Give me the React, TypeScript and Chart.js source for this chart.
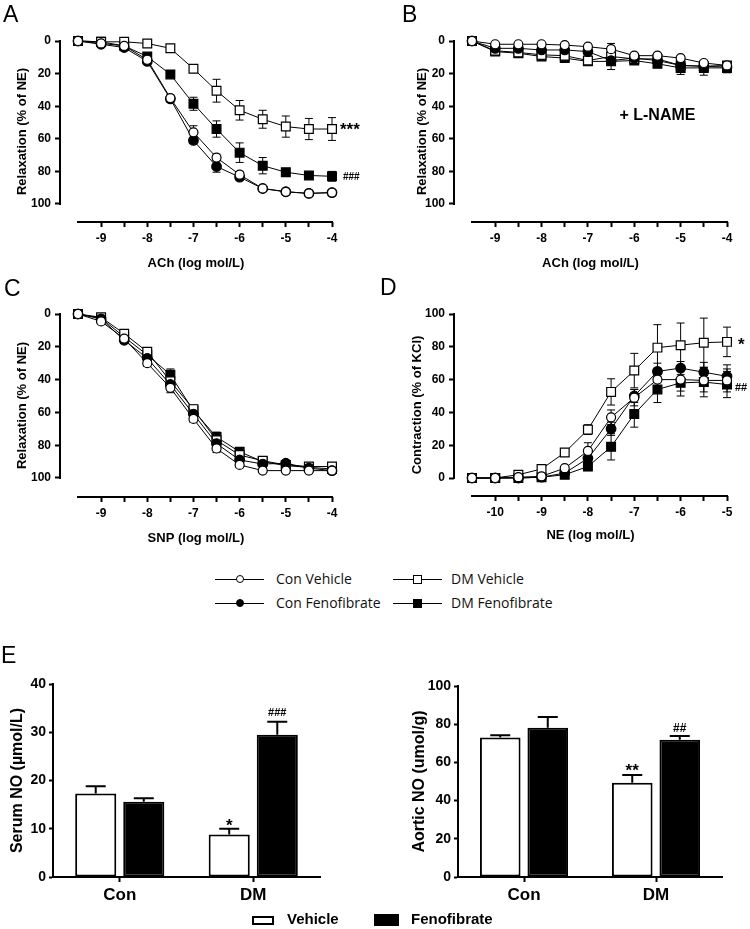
import React, { useEffect, useRef } from "react";
import { Chart, registerables } from "chart.js";

Chart.register(...registerables);
const FAMILY = "'Liberation Sans', Arial, Helvetica, sans-serif";
Chart.defaults.font.family = FAMILY;
Chart.defaults.color = "#000";

// ---------------- DATA ----------------
const seriesNames = ["Con Vehicle", "Con Fenofibrate", "DM Vehicle", "DM Fenofibrate"];

// Panel A: ACh relaxation (% of NE)
const achLog = [-9.5, -9, -8.5, -8, -7.5, -7, -6.5, -6, -5.5, -5, -4.5, -4];
const achTicks = [-9, -8.5, -8, -7.5, -7, -6.5, -6, -5.5, -5, -4.5, -4];
const relaxTicks = [0, 20, 40, 60, 80, 100];

const aConVeh = [0, 1.5, 3, 11.5, 35, 56, 71.5, 82, 90.5, 92.5, 93.5, 93];
const aConVehErr = [0, 0.5, 0.5, 1, 2, 4, 2, 2, 1, 1, 1, 1];
const aConFeno = [0, 2, 4, 12.5, 35.5, 61, 77, 83.5, 90.5, 92.5, 93.5, 93];
const aConFenoErr = [0, 0.5, 1, 1, 2, 1.5, 3.5, 2, 1, 1, 1, 1];
const aDmVeh = [0, 0.5, 0.5, 1.5, 4.5, 17, 30.5, 42.5, 48, 52.5, 54, 54];
const aDmVehErr = [0, 0.5, 0.5, 0.5, 1, 1, 7, 6, 5.5, 6.5, 6.5, 7];
const aDmFeno = [0, 0.5, 3, 9.5, 20.5, 38.5, 54, 68.5, 76.5, 80.5, 82.5, 83];
const aDmFenoErr = [0, 0.5, 0.5, 1, 1, 4, 5, 6, 5, 1.5, 1, 3];

// Panel B: ACh + L-NAME
const bConVeh = [0, 2, 2, 2, 2.5, 3.5, 5, 9, 9, 10.5, 13.5, 15];
const bConVehErr = [0, 1, 1, 1, 1, 1, 1.5, 1.5, 1.5, 1.5, 1.5, 2];
const bConFeno = [0, 4.5, 4.5, 5.5, 5.5, 6.5, 12, 10.5, 12, 15, 15.5, 16];
const bConFenoErr = [0, 1.5, 1.5, 1.5, 1.5, 1.5, 2, 2, 2, 2, 2, 2];
const bDmVeh = [0, 6, 7, 8.5, 9, 12, 9.5, 11, 11, 15, 15.5, 15];
const bDmVehErr = [0, 1.5, 1.5, 1.5, 1.5, 1.5, 8, 2, 2, 2, 2, 2];
const bDmFeno = [0, 6.5, 7.5, 9.5, 10.5, 12.5, 12.5, 12, 14, 16.5, 16.5, 16.5];
const bDmFenoErr = [0, 1.5, 1.5, 1.5, 1.5, 1.5, 2, 2, 2, 4, 4.5, 3];

// Panel C: SNP
const snpLog = [-9.5, -9, -8.5, -8, -7.5, -7, -6.5, -6, -5.5, -5, -4.5, -4];
const snpTicks = [-9, -8.5, -8, -7.5, -7, -6.5, -6, -5.5, -5, -4.5, -4];
const cConVeh = [0, 4.5, 15, 30, 45, 64, 82, 92, 95.5, 95.5, 95.5, 95.5];
const cConVehErr = [0, 1, 1.5, 2, 3, 2, 2.5, 1.5, 1, 1, 1, 1];
const cConFeno = [0, 3, 16, 27, 43, 61, 79, 89, 91.5, 91, 94, 95.5];
const cConFenoErr = [0, 1, 2, 2, 3.5, 2.5, 3, 2, 1.5, 1, 1, 1];
const cDmVeh = [0, 2, 12, 23, 41, 58, 77, 86, 89.5, 92, 93, 93];
const cDmVehErr = [0, 1, 2, 2, 3, 2.5, 3, 2, 1.5, 1, 1, 1];
const cDmFeno = [0, 2.5, 14, 25, 37, 59, 75, 84, 90, 92.5, 93.5, 94.5];
const cDmFenoErr = [0, 1, 2, 2, 3.5, 2.5, 3, 2, 1.5, 1, 1, 1];

// Panel D: NE contraction (% of KCl)
const neLog = [-10.5, -10, -9.5, -9, -8.5, -8, -7.5, -7, -6.5, -6, -5.5, -5];
const neTicks = [-10, -9.5, -9, -8.5, -8, -7.5, -7, -6.5, -6, -5.5, -5];
const contractTicks = [0, 20, 40, 60, 80, 100];
const dConVeh = [0, 0, 0.5, 1, 6, 16.5, 37, 49, 60, 60, 59.5, 59.5];
const dConVehErr = [0, 0, 0.5, 0.5, 1, 5, 4.5, 5, 6, 7, 7, 7];
const dConFeno = [0, 0, 0, 0.5, 3, 12, 30, 50, 65, 67, 64.5, 62];
const dConFenoErr = [0, 0, 0, 0.5, 1, 3, 4, 4, 5, 4, 6, 7];
const dDmVeh = [0, 0, 2, 5.5, 15.5, 29.5, 52.5, 65.5, 79.5, 81, 82.5, 83];
const dDmVehErr = [0, 0, 0.5, 1, 1.5, 3, 8, 10.5, 14, 13.5, 15, 9];
const dDmFeno = [0, 0, 0, 0.5, 2, 7, 19, 39, 54, 58, 58.5, 57];
const dDmFenoErr = [0, 0, 0, 0.5, 1, 2.5, 8, 8, 8, 8, 9, 8];

// Panel E: NO levels
const groups = ["Con", "DM"];
const serumVeh = [17.3, 8.8];
const serumVehErr = [1.5, 1.2];
const serumFeno = [15.6, 29.5];
const serumFenoErr = [0.7, 2.7];
const serumVehMarks = ["", "*"];
const serumFenoMarks = ["", "###"];
const aorticVeh = [73.0, 49.4];
const aorticVehErr = [1.2, 4.0];
const aorticFeno = [78.2, 71.9];
const aorticFenoErr = [5.6, 1.9];
const aorticVehMarks = ["", "**"];
const aorticFenoMarks = ["", "##"];

// ---------------- STYLES ----------------
const seriesStyles = [
  { pointStyle: "circle", radius: 4.5, fill: "#ffffff" },
  { pointStyle: "circle", radius: 4.8, fill: "#000000" },
  { pointStyle: "rect", radius: 6.2, fill: "#ffffff" },
  { pointStyle: "rect", radius: 6.2, fill: "#000000" },
];

const last = (a: number[]) => a[a.length - 1];

// ---------------- PLUGINS ----------------
const lineErrorsPlugin = {
  id: "lineErrors",
  beforeDatasetsDraw(chart: any) {
    const ctx = chart.ctx;
    const yScale = chart.scales.y;
    ctx.save();
    ctx.strokeStyle = "#000";
    ctx.lineWidth = 1;
    chart.data.datasets.forEach((ds: any, i: number) => {
      const errs = ds.errors;
      if (!errs) return;
      const meta = chart.getDatasetMeta(i);
      meta.data.forEach((pt: any, j: number) => {
        const e = errs[j];
        if (!e) return;
        const v = ds.data[j].y;
        const y1 = yScale.getPixelForValue(v - e);
        const y2 = yScale.getPixelForValue(v + e);
        const x = pt.x;
        ctx.beginPath();
        ctx.moveTo(x, y1);
        ctx.lineTo(x, y2);
        ctx.moveTo(x - 4, y1);
        ctx.lineTo(x + 4, y1);
        ctx.moveTo(x - 4, y2);
        ctx.lineTo(x + 4, y2);
        ctx.stroke();
      });
    });
    ctx.restore();
  },
};

const barErrorsPlugin = {
  id: "barErrors",
  afterDatasetsDraw(chart: any) {
    const ctx = chart.ctx;
    const yScale = chart.scales.y;
    ctx.save();
    ctx.strokeStyle = "#000";
    ctx.lineWidth = 2;
    chart.data.datasets.forEach((ds: any, i: number) => {
      const meta = chart.getDatasetMeta(i);
      meta.data.forEach((bar: any, j: number) => {
        const e = ds.errors[j];
        const v = ds.data[j];
        const y1 = yScale.getPixelForValue(v);
        const y2 = yScale.getPixelForValue(v + e);
        ctx.beginPath();
        ctx.moveTo(bar.x, y1);
        ctx.lineTo(bar.x, y2);
        ctx.moveTo(bar.x - 10, y2);
        ctx.lineTo(bar.x + 10, y2);
        ctx.stroke();
      });
    });
    ctx.restore();
  },
};

function makeAxesPlugin(xFrom: number, xTo: number, yFrom: number, yTo: number) {
  return {
    id: "offsetAxes",
    afterDraw(chart: any) {
      const { ctx, chartArea } = chart;
      const x = chart.scales.x;
      const y = chart.scales.y;
      ctx.save();
      ctx.strokeStyle = "#000";
      ctx.lineWidth = 2;
      ctx.lineCap = "square";
      ctx.beginPath();
      ctx.moveTo(chartArea.left, y.getPixelForValue(yFrom));
      ctx.lineTo(chartArea.left, y.getPixelForValue(yTo));
      ctx.moveTo(x.getPixelForValue(xFrom), chartArea.bottom);
      ctx.lineTo(x.getPixelForValue(xTo), chartArea.bottom);
      ctx.stroke();
      ctx.restore();
    },
  };
}

function drawCentered(ctx: any, text: string, x: number, y: number, font: string, align: string) {
  ctx.font = font;
  ctx.textAlign = align;
  ctx.textBaseline = "alphabetic";
  ctx.fillStyle = "#000";
  const m = ctx.measureText(text);
  ctx.fillText(text, x, y + (m.actualBoundingBoxAscent - m.actualBoundingBoxDescent) / 2);
}

type LineNote = { text: string; x: number; y: number; font: string; align: string; dx: number; dy: number };

function makeLineNotesPlugin(notes: LineNote[]) {
  return {
    id: "lineNotes",
    afterDatasetsDraw(chart: any) {
      const ctx = chart.ctx;
      ctx.save();
      notes.forEach((n) => {
        const px = chart.scales.x.getPixelForValue(n.x) + n.dx;
        const py = chart.scales.y.getPixelForValue(n.y) + n.dy;
        drawCentered(ctx, n.text, px, py, n.font, n.align);
      });
      ctx.restore();
    },
  };
}

function makeBarNotesPlugin(marks: string[][], fonts: string[][], gaps: number[][]) {
  return {
    id: "barNotes",
    afterDatasetsDraw(chart: any) {
      const ctx = chart.ctx;
      ctx.save();
      chart.data.datasets.forEach((ds: any, i: number) => {
        const meta = chart.getDatasetMeta(i);
        meta.data.forEach((bar: any, j: number) => {
          const t = marks[i][j];
          if (!t) return;
          const py = chart.scales.y.getPixelForValue(ds.data[j] + ds.errors[j]) - gaps[i][j];
          drawCentered(ctx, t, bar.x, py, fonts[i][j], "center");
        });
      });
      ctx.restore();
    },
  };
}

// ---------------- CONFIG BUILDERS ----------------
type Series = { values: number[]; errors: number[] };
interface LinePanelSpec {
  box: number[];
  axisXPx: number;
  xStartPx: number;
  xEndPx: number;
  yTopPx: number;
  yBottomPx: number;
  axisYPx: number;
  yTitleX: number;
  xTitleY: number;
  doses: number[];
  xTicks: number[];
  yTicks: number[];
  yTopVal: number;
  yBottomVal: number;
  xTitle: string;
  yTitle: string;
  series: Series[];
  notes: LineNote[];
}

function buildLineConfig(p: LinePanelSpec): any {
  const [left, top, width, height] = p.box;
  const xFirst = p.doses[0];
  const xLast = last(p.doses);
  const xppu = (p.xEndPx - p.xStartPx) / (xLast - xFirst);
  const xMin = xFirst - (p.xStartPx - p.axisXPx) / xppu;
  const yppu = (p.yBottomPx - p.yTopPx) / Math.abs(p.yBottomVal - p.yTopVal);
  const ext = (p.axisYPx - p.yBottomPx) / yppu;
  const reverse = p.yTopVal < p.yBottomVal;
  const yMin = reverse ? p.yTopVal : p.yBottomVal - ext;
  const yMax = reverse ? p.yBottomVal + ext : p.yTopVal;
  const yAxisW = p.axisXPx - left;
  const xAxisH = top + height - p.axisYPx;
  const titleLH = 13 * 1.2;
  const gridOpts = {
    drawOnChartArea: false,
    drawTicks: true,
    tickLength: 5,
    tickWidth: 2,
    tickColor: "#000",
  };
  return {
    type: "line",
    data: {
      datasets: p.series.map((s, i) => ({
        label: seriesNames[i],
        data: s.values.map((v, j) => ({ x: p.doses[j], y: v })),
        errors: s.errors,
        borderColor: "#000",
        borderWidth: 1,
        backgroundColor: seriesStyles[i].fill,
        pointStyle: seriesStyles[i].pointStyle,
        pointRadius: seriesStyles[i].radius,
        pointBackgroundColor: seriesStyles[i].fill,
        pointBorderColor: "#000",
        pointBorderWidth: 1.2,
        tension: 0,
        fill: false,
        clip: false,
      })),
    },
    options: {
      responsive: false,
      maintainAspectRatio: false,
      animation: false,
      devicePixelRatio: 1,
      events: [],
      layout: { padding: { left: 0, top: p.yTopPx - top, right: left + width - p.xEndPx, bottom: 0 } },
      plugins: { legend: { display: false }, tooltip: { enabled: false } },
      scales: {
        x: {
          type: "linear",
          min: xMin,
          max: xLast,
          afterBuildTicks: (s: any) => {
            s.ticks = p.xTicks.map((v) => ({ value: v }));
          },
          afterFit: (s: any) => {
            s.height = xAxisH;
          },
          ticks: {
            autoSkip: false,
            maxRotation: 0,
            padding: 4,
            color: "#000",
            font: { size: 12, weight: "bold", family: FAMILY },
            callback: (v: any) => (Number.isInteger(Number(v)) ? String(v) : ""),
          },
          grid: gridOpts,
          border: { display: false },
          title: {
            display: true,
            text: p.xTitle,
            color: "#000",
            font: { size: 13, weight: "bold", family: FAMILY },
            padding: { top: 0, bottom: top + height - p.xTitleY - titleLH / 2 },
          },
        },
        y: {
          type: "linear",
          reverse,
          min: yMin,
          max: yMax,
          afterBuildTicks: (s: any) => {
            s.ticks = p.yTicks.map((v) => ({ value: v }));
          },
          afterFit: (s: any) => {
            s.width = yAxisW;
          },
          ticks: {
            padding: 4,
            color: "#000",
            font: { size: 12, weight: "bold", family: FAMILY },
          },
          grid: gridOpts,
          border: { display: false },
          title: {
            display: true,
            text: p.yTitle,
            color: "#000",
            font: { size: 13, weight: "bold", family: FAMILY },
            padding: { top: p.yTitleX - left - titleLH / 2, bottom: 0 },
          },
        },
      },
    },
    plugins: [
      lineErrorsPlugin,
      makeAxesPlugin(xFirst, xLast, p.yTopVal, p.yBottomVal),
      makeLineNotesPlugin(p.notes),
    ],
  };
}

interface BarPanelSpec {
  box: number[];
  areaLeft: number;
  areaRight: number;
  areaTop: number;
  areaBottom: number;
  yTitleX: number;
  yMax: number;
  yStep: number;
  yTitle: string;
  veh: number[];
  vehErr: number[];
  feno: number[];
  fenoErr: number[];
  marks: string[][];
  markFonts: string[][];
  markGaps: number[][];
}

function buildBarConfig(p: BarPanelSpec): any {
  const [left, top, width, height] = p.box;
  const titleLH = 16 * 1.2;
  const gridOpts = {
    drawOnChartArea: false,
    drawTicks: true,
    tickWidth: 2,
    tickColor: "#000",
  };
  return {
    type: "bar",
    data: {
      labels: groups,
      datasets: [
        {
          label: "Vehicle",
          data: p.veh,
          errors: p.vehErr,
          backgroundColor: "#ffffff",
          borderColor: "#000",
          borderWidth: 2,
          borderSkipped: false,
          categoryPercentage: 0.72,
          barPercentage: 0.855,
        },
        {
          label: "Fenofibrate",
          data: p.feno,
          errors: p.fenoErr,
          backgroundColor: "#000",
          borderColor: "#000",
          borderWidth: 2,
          borderSkipped: false,
          categoryPercentage: 0.72,
          barPercentage: 0.855,
        },
      ],
    },
    options: {
      responsive: false,
      maintainAspectRatio: false,
      animation: false,
      devicePixelRatio: 1,
      events: [],
      layout: { padding: { left: 0, top: p.areaTop - top, right: left + width - p.areaRight, bottom: 0 } },
      plugins: { legend: { display: false }, tooltip: { enabled: false } },
      scales: {
        x: {
          type: "category",
          offset: true,
          afterFit: (s: any) => {
            s.height = top + height - p.areaBottom;
          },
          grid: { ...gridOpts, offset: false, tickLength: 5 },
          border: { display: true, width: 2, color: "#000" },
          ticks: { padding: 3, color: "#000", font: { size: 17, weight: "bold", family: FAMILY } },
        },
        y: {
          min: 0,
          max: p.yMax,
          afterFit: (s: any) => {
            s.width = p.areaLeft - left;
          },
          ticks: { stepSize: p.yStep, padding: 3, color: "#000", font: { size: 14, weight: "bold", family: FAMILY } },
          grid: { ...gridOpts, tickLength: 4 },
          border: { display: true, width: 2, color: "#000" },
          title: {
            display: true,
            text: p.yTitle,
            color: "#000",
            font: { size: 16, weight: "bold", family: FAMILY },
            padding: { top: p.yTitleX - left - titleLH / 2, bottom: 0 },
          },
        },
      },
    },
    plugins: [barErrorsPlugin, makeBarNotesPlugin(p.marks, p.markFonts, p.markGaps)],
  };
}

// ---------------- PANEL SPECS ----------------
const panelA: LinePanelSpec = {
  box: [0, 20, 375, 255],
  axisXPx: 60, xStartPx: 78, xEndPx: 332,
  yTopPx: 41, yBottomPx: 204, axisYPx: 222,
  yTitleX: 22, xTitleY: 263,
  doses: achLog, xTicks: achTicks, yTicks: relaxTicks,
  yTopVal: 0, yBottomVal: 100,
  xTitle: "ACh (log mol/L)", yTitle: "Relaxation (% of NE)",
  series: [
    { values: aConVeh, errors: aConVehErr },
    { values: aConFeno, errors: aConFenoErr },
    { values: aDmVeh, errors: aDmVehErr },
    { values: aDmFeno, errors: aDmFenoErr },
  ],
  notes: [
    { text: "***", x: last(achLog), y: last(aDmVeh), font: `bold 17px ${FAMILY}`, align: "left", dx: 8, dy: -3 },
    { text: "###", x: last(achLog), y: last(aDmFeno), font: `bold 10px ${FAMILY}`, align: "left", dx: 11, dy: 0 },
  ],
};

const panelB: LinePanelSpec = {
  box: [375, 20, 375, 255],
  axisXPx: 454, xStartPx: 472, xEndPx: 727,
  yTopPx: 41, yBottomPx: 204, axisYPx: 222,
  yTitleX: 422, xTitleY: 263,
  doses: achLog, xTicks: achTicks, yTicks: relaxTicks,
  yTopVal: 0, yBottomVal: 100,
  xTitle: "ACh (log mol/L)", yTitle: "Relaxation (% of NE)",
  series: [
    { values: bConVeh, errors: bConVehErr },
    { values: bConFeno, errors: bConFenoErr },
    { values: bDmVeh, errors: bDmVehErr },
    { values: bDmFeno, errors: bDmFenoErr },
  ],
  notes: [{ text: "+ L-NAME", x: -5.5, y: 45, font: `bold 16px ${FAMILY}`, align: "center", dx: 0, dy: 0 }],
};

const panelC: LinePanelSpec = {
  box: [0, 295, 375, 255],
  axisXPx: 60, xStartPx: 78, xEndPx: 332,
  yTopPx: 314, yBottomPx: 478, axisYPx: 497,
  yTitleX: 22, xTitleY: 538,
  doses: snpLog, xTicks: snpTicks, yTicks: relaxTicks,
  yTopVal: 0, yBottomVal: 100,
  xTitle: "SNP (log mol/L)", yTitle: "Relaxation (% of NE)",
  series: [
    { values: cConVeh, errors: cConVehErr },
    { values: cConFeno, errors: cConFenoErr },
    { values: cDmVeh, errors: cDmVehErr },
    { values: cDmFeno, errors: cDmFenoErr },
  ],
  notes: [],
};

const panelD: LinePanelSpec = {
  box: [375, 295, 375, 255],
  axisXPx: 454, xStartPx: 472, xEndPx: 727,
  yTopPx: 314, yBottomPx: 478, axisYPx: 496,
  yTitleX: 417, xTitleY: 535,
  doses: neLog, xTicks: neTicks, yTicks: contractTicks,
  yTopVal: 100, yBottomVal: 0,
  xTitle: "NE (log mol/L)", yTitle: "Contraction (% of KCl)",
  series: [
    { values: dConVeh, errors: dConVehErr },
    { values: dConFeno, errors: dConFenoErr },
    { values: dDmVeh, errors: dDmVehErr },
    { values: dDmFeno, errors: dDmFenoErr },
  ],
  notes: [
    { text: "*", x: last(neLog), y: last(dDmVeh), font: `bold 17px ${FAMILY}`, align: "left", dx: 11, dy: 0 },
    { text: "##", x: last(neLog), y: last(dDmFeno), font: `bold 11px ${FAMILY}`, align: "left", dx: 8, dy: 2 },
  ],
};

const panelE1: BarPanelSpec = {
  box: [0, 650, 345, 265],
  areaLeft: 53, areaRight: 320, areaTop: 684, areaBottom: 877,
  yTitleX: 18, yMax: 40, yStep: 10, yTitle: "Serum NO (µmol/L)",
  veh: serumVeh, vehErr: serumVehErr, feno: serumFeno, fenoErr: serumFenoErr,
  marks: [serumVehMarks, serumFenoMarks],
  markFonts: [
    [`bold 17px ${FAMILY}`, `bold 17px ${FAMILY}`],
    [`bold 11px ${FAMILY}`, `bold 11px ${FAMILY}`],
  ],
  markGaps: [[6, 6], [10, 10]],
};

const panelE2: BarPanelSpec = {
  box: [375, 650, 370, 265],
  areaLeft: 458, areaRight: 722, areaTop: 686, areaBottom: 877,
  yTitleX: 420, yMax: 100, yStep: 20, yTitle: "Aortic NO (umol/g)",
  veh: aorticVeh, vehErr: aorticVehErr, feno: aorticFeno, fenoErr: aorticFenoErr,
  marks: [aorticVehMarks, aorticFenoMarks],
  markFonts: [
    [`bold 17px ${FAMILY}`, `bold 17px ${FAMILY}`],
    [`bold 12px ${FAMILY}`, `bold 12px ${FAMILY}`],
  ],
  markGaps: [[8, 8], [9, 9]],
};

// ---------------- COMPONENTS ----------------
function ChartBox({ box, build }: { box: number[]; build: () => any }) {
  const ref = useRef<HTMLCanvasElement>(null);
  useEffect(() => {
    const chart = new Chart(ref.current as HTMLCanvasElement, build());
    return () => chart.destroy();
  }, []);
  const [left, top, width, height] = box;
  return (
    <canvas
      ref={ref}
      width={width}
      height={height}
      style={{ position: "absolute", left, top, width, height }}
    />
  );
}

function LegendItem({ x, y, idx, gap }: { x: number; y: number; idx: number; gap: number }) {
  const st = seriesStyles[idx];
  const size = st.pointStyle === "rect" ? 9 : 8;
  return (
    <div style={{ position: "absolute", left: x, top: y - 10, height: 20, display: "flex", alignItems: "center" }}>
      <div style={{ position: "relative", width: 49, height: 20 }}>
        <div style={{ position: "absolute", left: 0, right: 0, top: 9.5, height: 1.3, background: "#000" }} />
        <div
          style={{
            position: "absolute",
            left: 24.5 - size / 2,
            top: 10 - size / 2,
            width: size,
            height: size,
            boxSizing: "border-box",
            border: "1.2px solid #000",
            borderRadius: st.pointStyle === "circle" ? "50%" : 0,
            background: st.fill,
          }}
        />
      </div>
      <span
        style={{
          marginLeft: gap,
          font: "14px 'Open Sans', 'Noto Sans', sans-serif",
          color: "#111",
          whiteSpace: "nowrap",
          lineHeight: "20px",
        }}
      >
        {seriesNames[idx]}
      </span>
    </div>
  );
}

const letterStyle = (left: number, top: number): React.CSSProperties => ({
  position: "absolute",
  left,
  top,
  font: `23px ${FAMILY}`,
  lineHeight: "23px",
  color: "#000",
});

export default function App() {
  return (
    <div
      style={{
        position: "absolute",
        left: 0,
        top: 0,
        width: 750,
        height: 929,
        background: "#fff",
        overflow: "hidden",
      }}
    >
      <ChartBox box={panelA.box} build={() => buildLineConfig(panelA)} />
      <ChartBox box={panelB.box} build={() => buildLineConfig(panelB)} />
      <ChartBox box={panelC.box} build={() => buildLineConfig(panelC)} />
      <ChartBox box={panelD.box} build={() => buildLineConfig(panelD)} />
      <ChartBox box={panelE1.box} build={() => buildBarConfig(panelE1)} />
      <ChartBox box={panelE2.box} build={() => buildBarConfig(panelE2)} />

      <div style={letterStyle(3, 2.5)}>A</div>
      <div style={letterStyle(402, 2.5)}>B</div>
      <div style={letterStyle(4, 277)}>C</div>
      <div style={letterStyle(380, 276)}>D</div>
      <div style={letterStyle(1, 643.5)}>E</div>

      <LegendItem x={215} y={579} idx={0} gap={12} />
      <LegendItem x={393} y={579} idx={2} gap={9} />
      <LegendItem x={215} y={603} idx={1} gap={12} />
      <LegendItem x={393} y={603} idx={3} gap={9} />

      <div
        style={{
          position: "absolute",
          left: 252,
          top: 916,
          width: 22,
          height: 9,
          boxSizing: "border-box",
          border: "2px solid #000",
          background: "#fff",
        }}
      />
      <div
        style={{
          position: "absolute",
          left: 287,
          top: 910,
          lineHeight: "20px",
          font: `bold 15px ${FAMILY}`,
          color: "#000",
        }}
      >
        Vehicle
      </div>
      <div style={{ position: "absolute", left: 374, top: 914, width: 25, height: 12, background: "#000" }} />
      <div
        style={{
          position: "absolute",
          left: 411,
          top: 910,
          lineHeight: "20px",
          font: `bold 15px ${FAMILY}`,
          color: "#000",
        }}
      >
        Fenofibrate
      </div>
    </div>
  );
}
